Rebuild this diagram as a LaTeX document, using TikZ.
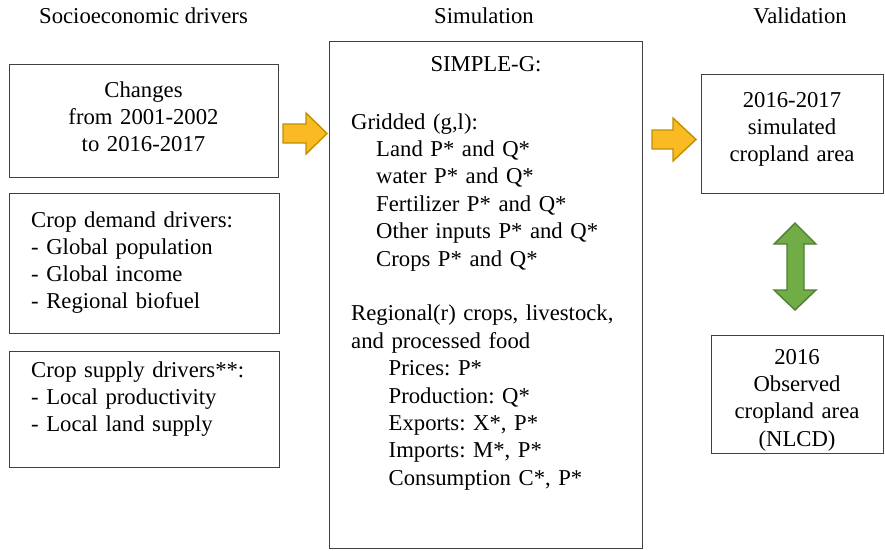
\documentclass[tikz,border=0pt]{standalone}
\usepackage{fontspec}
\setmainfont{Liberation Serif}
\frenchspacing
\definecolor{edge}{RGB}{64,64,64}
\definecolor{goldfill}{RGB}{249,186,36}
\definecolor{goldedge}{RGB}{191,144,0}
\definecolor{greenfill}{RGB}{112,173,71}
\definecolor{greenedge}{RGB}{80,126,50}
\begin{document}
\begin{tikzpicture}[x=1pt,y=-1pt,
  txt/.style={font=\fontsize{22.7}{27}\selectfont, inner sep=0pt, text=black},
  lefttxt/.style={txt, anchor=base west, text width=#1, align=left},
  midtxt/.style={txt, anchor=base, text width=#1, align=center},
  frame/.style={draw=edge, line width=1.3pt, inner sep=0pt, anchor=north west},
  goldarrow/.style={fill=goldfill, draw=goldedge, line width=1.4pt, line join=miter},
  greenarrow/.style={fill=greenfill, draw=greenedge, line width=1.4pt, line join=miter}]
\useasboundingbox (0,0) rectangle (885,550);

% column headings
\node[txt, anchor=base] (hsoc) at (143.5,23) {Socioeconomic drivers};
\node[txt, anchor=base] (hsim) at (484,23) {Simulation};
\node[txt, anchor=base] (hval) at (800,23) {Validation};

% frames
\node[frame, minimum width=269pt, minimum height=113pt] (chg) at (9,64) {};
\node[frame, minimum width=270pt, minimum height=140pt] (dem) at (9,193) {};
\node[frame, minimum width=270pt, minimum height=116pt] (sup) at (9,351) {};
\node[frame, minimum width=313pt, minimum height=507pt] (sim) at (329,41) {};
\node[frame, minimum width=182pt, minimum height=119pt] (simout) at (701,74) {};
\node[frame, minimum width=172pt, minimum height=118pt] (obs) at (711,335) {};

% driver texts
\node[midtxt=260pt] (chgtxt) at (143.5,97) {Changes\\from 2001-2002\\to 2016-2017};
\node[lefttxt=240pt] (demtxt) at (31,227) {Crop demand drivers:\\- Global population\\- Global income\\- Regional biofuel};
\node[lefttxt=240pt] (suptxt) at (31,377) {Crop supply drivers**:\\- Local productivity\\- Local land supply};

% model contents
\node[midtxt=300pt] (simtitle) at (486,71) {SIMPLE-G:};
\node[lefttxt=285pt, font=\fontsize{22.7}{27.4}\selectfont] (simbody) at (351,129)
  {Gridded (g,l):\\
   \hspace*{25pt}Land P* and Q*\\
   \hspace*{25pt}water P* and Q*\\
   \hspace*{25pt}Fertilizer P* and Q*\\
   \hspace*{25pt}Other inputs P* and Q*\\
   \hspace*{25pt}Crops P* and Q*\\[27.4pt]
   Regional(r) crops, livestock,\\
   and processed food\\
   \hspace*{37.5pt}Prices: P*\\
   \hspace*{37.5pt}Production: Q*\\
   \hspace*{37.5pt}Exports: X*, P*\\
   \hspace*{37.5pt}Imports: M*, P*\\
   \hspace*{37.5pt}Consumption C*, P*};

% validation texts
\node[midtxt=175pt] (simouttxt) at (792,107) {2016-2017\\simulated\\cropland area};
\node[midtxt=170pt, font=\fontsize{22.7}{27.4}\selectfont] (obstxt) at (797,364) {2016\\Observed\\cropland area\\(NLCD)};

% block arrows
\draw[goldarrow] (283,124) -- (306,124) -- (306,113) -- (327,133.5) -- (306,154) -- (306,143) -- (283,143) -- cycle;
\draw[goldarrow] (652,130) -- (673,130) -- (673,118) -- (696,139.5) -- (673,161) -- (673,149) -- (652,149) -- cycle;
\draw[greenarrow] (795,223) -- (816,244) -- (804,244) -- (804,290) -- (816,290) -- (795,310) -- (774,290) -- (787,290) -- (787,244) -- (774,244) -- cycle;
\end{tikzpicture}
\end{document}
